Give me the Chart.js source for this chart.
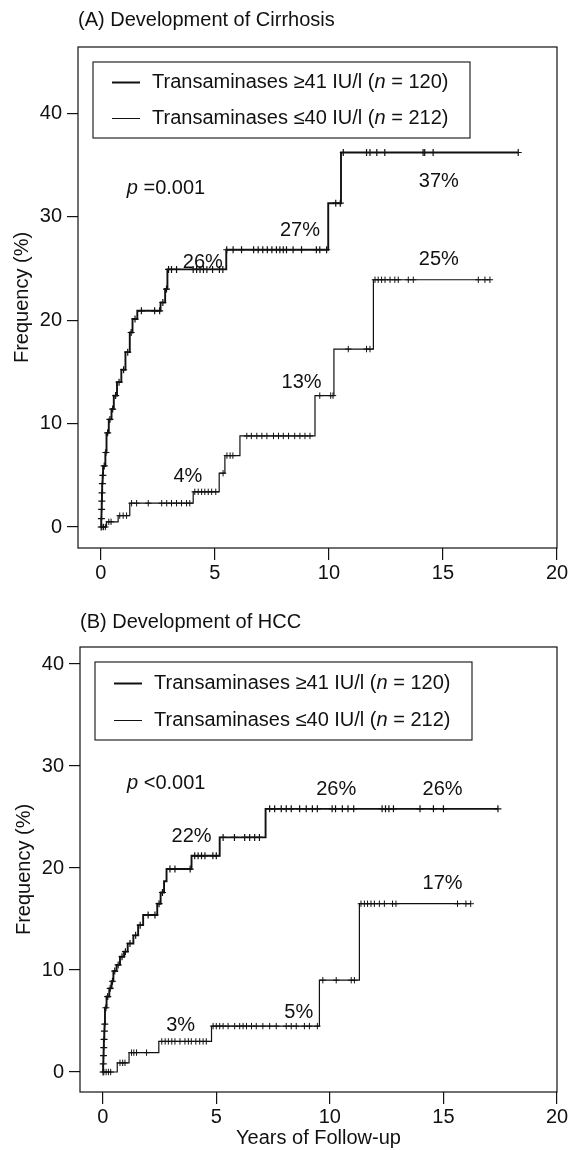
<!DOCTYPE html>
<html>
<head>
<meta charset="utf-8">
<script src="https://cdn.jsdelivr.net/npm/chart.js@4.4.1/dist/chart.umd.min.js"></script>
<style>
  html, body { margin: 0; padding: 0; background: #fff; }
  canvas { display: block; }
</style>
</head>
<body>
<canvas id="cirrhosisCanvas" width="570" height="592"></canvas>
<canvas id="hccCanvas" width="570" height="558"></canvas>
<script>
const xTicks = [0, 5, 10, 15, 20];
const yTicks = [0, 10, 20, 30, 40];
const groupLabels = ["Transaminases \u226541 IU/l (", "Transaminases \u226440 IU/l ("];
const groupN = [120, 212];

// (A) cirrhosis: event times (years) and cumulative frequency (%)
const cirrHighT = [0, 0.02, 0.03, 0.04, 0.05, 0.06, 0.08, 0.1, 0.2, 0.25, 0.35, 0.47, 0.57, 0.71, 0.9, 1.08, 1.27, 1.39, 1.6, 2.62, 2.82, 2.92, 5.5, 9.97, 10.53, 18.3];
const cirrHighY = [0, 0.8, 1.7, 2.5, 3.3, 4.2, 5.0, 5.9, 7.2, 9.1, 10.4, 11.4, 12.7, 14.0, 15.2, 16.9, 18.8, 20.1, 20.9, 21.7, 23.0, 24.9, 26.8, 31.3, 36.2, 36.2];
const cirrHighCens = [0.015, 0.025, 0.035, 0.045, 0.055, 0.07, 0.09, 0.15, 0.22, 0.3, 0.4, 0.52, 0.65, 0.8, 1.0, 1.18, 1.33, 1.5, 1.78, 2.36, 2.58, 2.72, 2.88, 2.97, 3.1, 3.32, 4.05, 4.2, 4.35, 4.5, 4.65, 4.9, 5.2, 5.35, 5.52, 5.8, 6.17, 6.7, 6.9, 7.1, 7.3, 7.5, 7.7, 7.85, 8.0, 8.14, 8.43, 8.8, 9.45, 9.6, 9.9, 10.3, 10.5, 10.63, 11.65, 11.8, 12.1, 12.45, 14.13, 14.2, 14.57, 18.3];
const cirrLowT = [0, 0.25, 0.76, 1.27, 4.05, 5.19, 5.44, 6.1, 9.39, 10.22, 11.95, 17.06];
const cirrLowY = [0, 0.5, 1.1, 2.3, 3.4, 5.2, 6.9, 8.8, 12.7, 17.2, 23.9, 23.9];
const cirrLowCens = [0.05, 0.12, 0.2, 0.35, 0.45, 0.83, 0.98, 1.13, 1.35, 1.57, 2.08, 2.67, 2.89, 3.1, 3.32, 3.54, 3.76, 3.9, 4.12, 4.27, 4.42, 4.56, 4.71, 4.86, 5.04, 5.36, 5.53, 5.67, 5.79, 6.4, 6.6, 6.84, 7.06, 7.28, 7.57, 7.79, 8.0, 8.23, 8.5, 8.73, 8.95, 9.17, 9.6, 10.08, 10.18, 10.85, 11.65, 11.8, 12.02, 12.16, 12.31, 12.46, 12.68, 12.89, 13.04, 13.48, 13.7, 16.55, 16.84, 17.06];

// (B) HCC
const hccHighT = [0, 0.02, 0.03, 0.04, 0.05, 0.07, 0.08, 0.1, 0.17, 0.29, 0.39, 0.47, 0.61, 0.76, 0.94, 1.1, 1.35, 1.56, 1.78, 2.4, 2.55, 2.7, 2.81, 3.91, 5.15, 7.17, 17.4];
const hccHighY = [0, 0.8, 1.6, 2.4, 3.2, 4.0, 4.7, 6.3, 7.4, 8.2, 8.9, 9.9, 10.5, 11.3, 11.8, 12.6, 13.4, 14.4, 15.4, 16.5, 17.6, 18.7, 19.9, 21.2, 23.0, 25.8, 25.8];
const hccHighCens = [0.015, 0.025, 0.035, 0.045, 0.06, 0.075, 0.09, 0.14, 0.22, 0.33, 0.43, 0.53, 0.68, 0.85, 1.0, 1.2, 1.45, 1.65, 2.0, 2.3, 2.48, 2.63, 2.96, 3.18, 3.85, 4.05, 4.2, 4.35, 4.5, 4.85, 5.0, 5.3, 5.8, 6.25, 6.47, 6.69, 6.9, 7.35, 7.57, 7.86, 8.08, 8.3, 8.67, 8.96, 9.23, 9.45, 10.1, 10.25, 10.55, 10.8, 11.05, 12.3, 12.45, 12.6, 12.8, 13.97, 14.56, 15.0, 17.4];
const hccLowT = [0, 0.64, 1.16, 2.47, 4.79, 9.54, 11.3, 16.2];
const hccLowY = [0, 0.9, 1.9, 3.0, 4.5, 9.0, 16.5, 16.5];
const hccLowCens = [0.05, 0.15, 0.25, 0.35, 0.76, 0.88, 0.98, 1.27, 1.37, 1.49, 1.93, 2.6, 2.75, 2.89, 3.04, 3.18, 3.4, 3.62, 3.77, 3.9, 4.1, 4.27, 4.42, 4.56, 4.86, 5.0, 5.15, 5.3, 5.52, 5.81, 6.03, 6.18, 6.33, 6.55, 6.76, 7.05, 7.35, 7.64, 8.08, 8.3, 8.52, 8.88, 9.1, 9.45, 9.69, 10.28, 10.94, 11.08, 11.37, 11.52, 11.66, 11.81, 11.96, 12.18, 12.4, 12.76, 12.91, 15.62, 15.99, 16.2];

// text annotations, anchored in data units
const cirrNotes = [
  { text: "26%", x: 4.47, y: 25.6 },
  { text: "27%", x: 8.73, y: 28.7 },
  { text: "37%", x: 14.82, y: 33.4 },
  { text: "25%", x: 14.82, y: 25.9 },
  { text: "13%", x: 8.8, y: 14.0 },
  { text: "4%", x: 3.82, y: 4.86 },
];
const hccNotes = [
  { text: "22%", x: 3.91, y: 23.1 },
  { text: "26%", x: 10.28, y: 27.7 },
  { text: "26%", x: 14.96, y: 27.7 },
  { text: "17%", x: 14.96, y: 18.5 },
  { text: "3%", x: 3.43, y: 4.6 },
  { text: "5%", x: 8.63, y: 5.85 },
];

const FONT = '"Liberation Sans", Arial, Helvetica, sans-serif';
const INK = "#111";
const TEXT_PX = 20;

function toSteps(ts, ys) {
  return ts.map((t, i) => ({ x: t, y: ys[i] }));
}

// a censored case sits on the curve at its time
function censorPoints(cens, ts, ys) {
  return cens.map((c) => {
    let v = ys[0];
    ts.forEach((t, i) => { if (t <= c) v = ys[i]; });
    return { x: c, y: v };
  });
}

function drawRich(ctx, parts, x, y) {
  ctx.textAlign = "left";
  parts.forEach(([str, italic]) => {
    ctx.font = (italic ? "italic " : "") + TEXT_PX + "px " + FONT;
    ctx.fillText(str, x, y);
    x += ctx.measureText(str).width;
  });
  ctx.font = TEXT_PX + "px " + FONT;
}

const panelPlugin = {
  id: "panelDecor",
  afterDraw: (chart, args, opts) => {
    const { ctx, chartArea: { left, top, right, bottom }, scales: { x, y } } = chart;
    ctx.save();
    ctx.strokeStyle = INK;
    ctx.fillStyle = INK;
    ctx.lineWidth = 1.2;
    ctx.strokeRect(left, top, right - left, bottom - top);

    ctx.font = TEXT_PX + "px " + FONT;
    ctx.textBaseline = "middle";
    ctx.textAlign = "left";
    ctx.fillText(opts.title, left, top - opts.titleGap);

    // legend box
    const lx = left + 15, ly = top + 15;
    ctx.lineWidth = 1.1;
    ctx.strokeRect(lx, ly, 377, opts.legendH);
    groupLabels.forEach((lab, i) => {
      const rowY = Math.round(ly + opts.rowY[i]) + 0.5;
      ctx.lineWidth = i === 0 ? 2 : 1;
      ctx.beginPath();
      ctx.moveTo(lx + 19, rowY);
      ctx.lineTo(lx + 47, rowY);
      ctx.stroke();
      drawRich(ctx, [[lab, false], ["n", true], [" = " + groupN[i] + ")", false]], lx + 59, rowY);
    });

    drawRich(ctx, [["p", true], [opts.pText, false]], x.getPixelForValue(opts.pAt[0]), y.getPixelForValue(opts.pAt[1]));

    ctx.textAlign = "center";
    opts.notes.forEach((n) => {
      ctx.fillText(n.text, x.getPixelForValue(n.x), y.getPixelForValue(n.y));
    });
    ctx.restore();
  },
};

function makeChart(canvasId, p) {
  const canvas = document.getElementById(canvasId);
  const ctx = canvas.getContext("2d");
  const tickFont = { size: TEXT_PX, family: FONT };
  return new Chart(ctx, {
    type: "line",
    data: {
      datasets: [
        { data: toSteps(p.highT, p.highY), stepped: true, borderColor: INK, borderWidth: 1.9, pointRadius: 0 },
        { data: toSteps(p.lowT, p.lowY), stepped: true, borderColor: INK, borderWidth: 1.2, pointRadius: 0 },
        { data: censorPoints(p.highCens, p.highT, p.highY), showLine: false, pointStyle: "cross", pointRadius: 3.5, borderColor: INK, borderWidth: 1.2 },
        { data: censorPoints(p.lowCens, p.lowT, p.lowY), showLine: false, pointStyle: "cross", pointRadius: 3.2, borderColor: INK, borderWidth: 1 },
      ],
    },
    options: {
      responsive: false,
      animation: false,
      layout: { padding: { top: p.areaTop, right: 13, left: 0, bottom: 0 } },
      plugins: {
        legend: { display: false },
        tooltip: { enabled: false },
        panelDecor: {
          title: p.title,
          titleGap: p.titleGap,
          legendH: p.legendH,
          rowY: p.rowY,
          pText: p.pText,
          pAt: p.pAt,
          notes: p.notes,
        },
      },
      scales: {
        x: {
          type: "linear",
          min: -1,
          max: 20,
          afterBuildTicks: (s) => { s.ticks = xTicks.map((v) => ({ value: v })); },
          afterFit: (s) => { s.height = p.xAxisH; },
          border: { display: false },
          grid: { drawOnChartArea: false, color: INK, lineWidth: 1.2, tickLength: 12 },
          ticks: { color: INK, font: tickFont, padding: 1, maxRotation: 0, autoSkip: false },
          title: {
            display: !!p.xTitle,
            text: p.xTitle || "",
            color: INK,
            font: tickFont,
            padding: { top: 0, bottom: 0 },
          },
        },
        y: {
          type: "linear",
          min: p.yMin,
          max: p.yMax,
          afterBuildTicks: (s) => { s.ticks = yTicks.map((v) => ({ value: v })); },
          afterFit: (s) => { s.width = p.areaLeft; },
          border: { display: false },
          grid: { drawOnChartArea: false, color: INK, lineWidth: 1.2, tickLength: 11 },
          ticks: { color: INK, font: tickFont, padding: 5 },
          title: {
            display: true,
            text: "Frequency (%)",
            color: INK,
            font: tickFont,
            padding: { top: p.areaLeft - 68, bottom: 0 },
          },
        },
      },
    },
    plugins: [panelPlugin],
  });
}

const cirrCanvas = document.getElementById("cirrhosisCanvas");
if (cirrCanvas) {
  makeChart("cirrhosisCanvas", {
    highT: cirrHighT, highY: cirrHighY, highCens: cirrHighCens,
    lowT: cirrLowT, lowY: cirrLowY, lowCens: cirrLowCens,
    notes: cirrNotes,
    title: "(A) Development of Cirrhosis",
    pText: " =0.001",
    pAt: [1.14, 32.75],
    yMin: -2.03, yMax: 46.4,
    areaTop: 47, areaLeft: 78, xAxisH: 44,
    titleGap: 27, legendH: 76, rowY: [20, 56],
  });
} else {
  console.error("cirrhosis canvas not found");
}

const hccCanvas = document.getElementById("hccCanvas");
if (hccCanvas) {
  makeChart("hccCanvas", {
    highT: hccHighT, highY: hccHighY, highCens: hccHighCens,
    lowT: hccLowT, lowY: hccLowY, lowCens: hccLowCens,
    notes: hccNotes,
    title: "(B) Development of HCC",
    pText: " <0.001",
    pAt: [1.07, 28.3],
    yMin: -1.96, yMax: 41.67,
    areaTop: 55, areaLeft: 80, xAxisH: 58,
    xTitle: "Years of Follow-up",
    titleGap: 25, legendH: 78, rowY: [21, 58],
  });
} else {
  console.error("hcc canvas not found");
}
</script>
</body>
</html>
